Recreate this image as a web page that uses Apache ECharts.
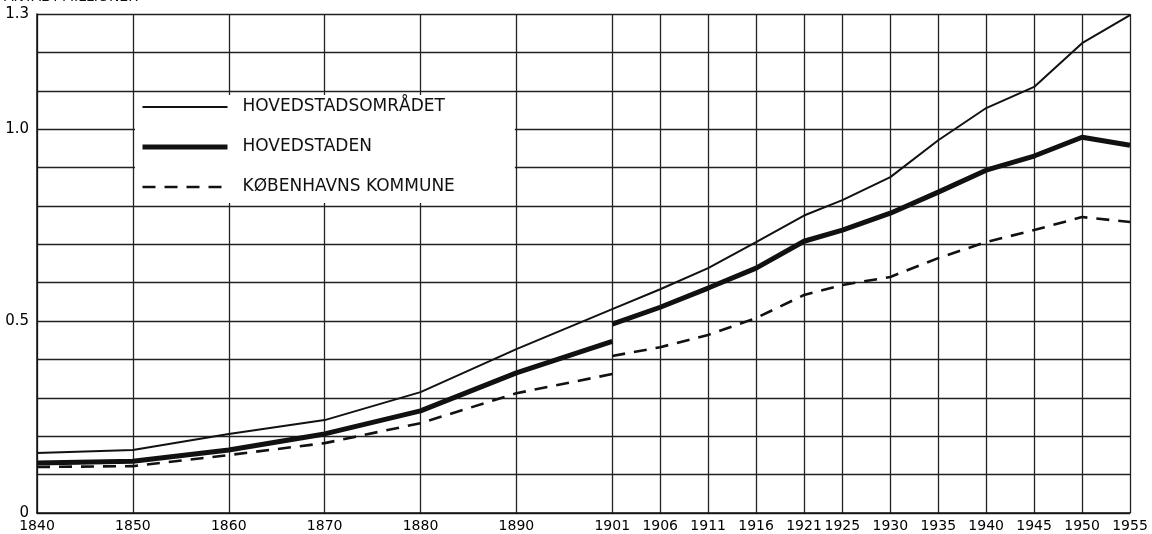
<!DOCTYPE html>
<html lang="da">
<head>
  <meta charset="UTF-8">
  <title>Antal i millioner 1840-1955</title>
  <script src="https://cdn.jsdelivr.net/npm/echarts@6/dist/echarts.min.js"></script>
  <style>
    html, body { margin: 0; padding: 0; background: #fff; }
  </style>
</head>
<body>

<div id="chart" style="width: 1152px; height: 534px;"></div>

<script>
  // tællingsår (1901 tegnes på 1900's plads, som i originalen)
  var years = [1840, 1850, 1860, 1870, 1880, 1890, 1901, 1906, 1911, 1916, 1921, 1925, 1930, 1935, 1940, 1945, 1950, 1955];

  // antal i millioner
  var omraadet    = [0.156, 0.164, 0.206, 0.242, 0.315, 0.427, 0.531, 0.583, 0.638, 0.706, 0.775, 0.815, 0.875, 0.971, 1.055, 1.110, 1.224, 1.297];
  var hovedstaden = [0.130, 0.135, 0.164, 0.206, 0.266, 0.365, 0.492, 0.536, 0.586, 0.638, 0.708, 0.737, 0.781, 0.836, 0.893, 0.930, 0.979, 0.958];
  var kommune     = [0.120, 0.122, 0.151, 0.182, 0.234, 0.312, 0.409, 0.432, 0.464, 0.508, 0.568, 0.594, 0.615, 0.664, 0.706, 0.737, 0.771, 0.758];

  // 1901 efter gammel afgrænsning (springet i kurverne)
  var hovedstaden1901Old = 0.447;
  var kommune1901Old = 0.362;

  var yLabels = [0, 0.5, 1.0, 1.3];

  function pos(y) { return y > 1900 ? y - 1 : y; }

  // byg [x, y]-par; ved 1901 indsættes den gamle værdi og et brud
  function build(vals, old1901) {
    var out = [];
    for (var i = 0; i < years.length; i++) {
      if (years[i] === 1901 && old1901 != null) {
        out.push([pos(1901), old1901]);
        out.push([pos(1901), '-']);
      }
      out.push([pos(years[i]), vals[i]]);
    }
    return out;
  }

  var tickPos = years.map(pos);
  var font = 'DejaVu Sans';
  var ink = '#111';

  var thin = { color: ink, width: 2 };
  var thick = { color: ink, width: 5 };
  var dashed = { color: ink, width: 2.6, type: [13, 9] };

  var myChart = echarts.init(document.getElementById('chart'));

  var option = {
    animation: false,
    backgroundColor: '#fff',
    title: {
      text: 'ANTAL I MILLIONER',
      left: 4,
      top: -10,
      padding: 0,
      textStyle: { fontFamily: font, fontSize: 14, fontWeight: 'normal', color: ink }
    },
    grid: { left: 37, right: 22, top: 14, bottom: 21, containLabel: false },
    legend: {
      orient: 'vertical',
      left: 135,
      top: 95,
      padding: [3, 60, 7, 5],
      backgroundColor: '#fff',
      itemWidth: 85,
      itemHeight: 18,
      itemGap: 22,
      textStyle: { fontFamily: font, fontSize: 17, lineHeight: 18, color: ink, padding: [0, 0, 0, 10] },
      data: [
        { name: 'HOVEDSTADSOMRÅDET', itemStyle: { opacity: 0 }, lineStyle: thin },
        { name: 'HOVEDSTADEN', itemStyle: { opacity: 0 }, lineStyle: thick },
        { name: 'KØBENHAVNS KOMMUNE', itemStyle: { opacity: 0 }, lineStyle: dashed }
      ]
    },
    xAxis: {
      type: 'value',
      min: 1840,
      max: 1954,
      axisLine: { show: true, lineStyle: { color: ink, width: 1.5 } },
      axisTick: { show: false, customValues: tickPos },
      axisLabel: {
        customValues: tickPos,
        margin: 6,
        fontFamily: font,
        fontSize: 14,
        color: '#000',
        formatter: function (v) { return String(v > 1899 ? v + 1 : v); }
      },
      splitLine: { show: true, lineStyle: { color: '#222', width: 1.3 } }
    },
    yAxis: {
      type: 'value',
      min: 0,
      max: 1.3,
      interval: 0.1,
      axisLine: { show: true, lineStyle: { color: ink, width: 1.5 } },
      axisTick: { show: false },
      axisLabel: {
        margin: 8,
        fontFamily: font,
        fontSize: 15,
        color: '#000',
        formatter: function (v) {
          var r = Math.round(v * 10) / 10;
          if (yLabels.indexOf(r) < 0) return '';
          return r === 0 ? '0' : r.toFixed(1);
        }
      },
      splitLine: { show: true, lineStyle: { color: '#222', width: 1.3 } }
    },
    series: [
      {
        name: 'HOVEDSTADSOMRÅDET',
        type: 'line',
        symbol: 'none',
        data: build(omraadet, null),
        lineStyle: thin,
        itemStyle: { color: ink }
      },
      {
        name: 'HOVEDSTADEN',
        type: 'line',
        symbol: 'none',
        data: build(hovedstaden, hovedstaden1901Old),
        lineStyle: thick,
        itemStyle: { color: ink }
      },
      {
        name: 'KØBENHAVNS KOMMUNE',
        type: 'line',
        symbol: 'none',
        data: build(kommune, kommune1901Old),
        lineStyle: dashed,
        itemStyle: { color: ink }
      }
    ]
  };

  myChart.setOption(option);
</script>

</body>
</html>
